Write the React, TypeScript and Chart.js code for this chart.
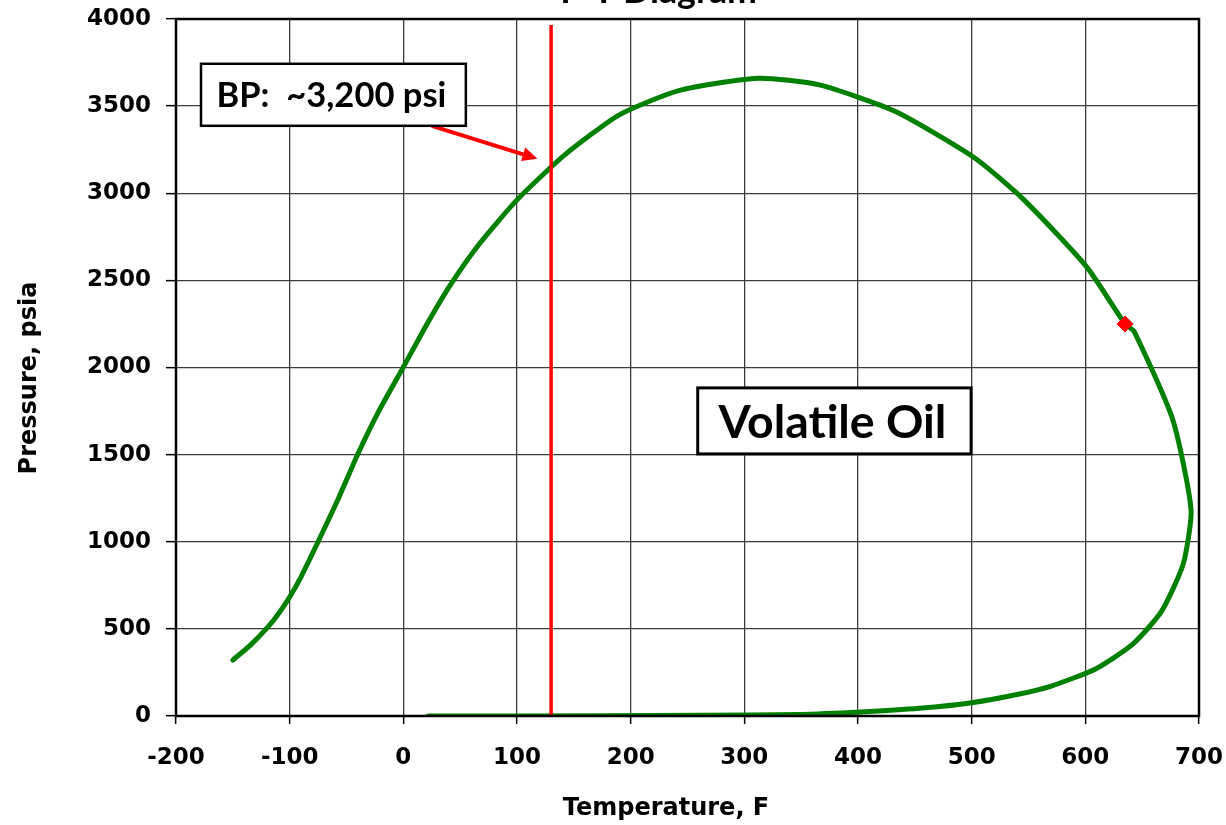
import React, { useEffect, useRef } from 'react';
import { Chart, registerables } from 'chart.js';

Chart.register(...registerables);

// Phase envelope (Temperature F, Pressure psia)
const envelopeTemp = [-150, -135, -120, -110, -100, -90, -75, -57, -40, -21, 0, 20, 41, 67, 100, 142, 190, 243, 312, 366, 433, 503, 546, 601, 635, 643, 677, 693, 686, 667, 642, 609, 570, 542, 500, 454, 402, 349, 260, 175, 22];
const envelopePres = [321, 404, 504, 585, 683, 799, 1000, 1250, 1504, 1757, 2002, 2240, 2470, 2710, 2962, 3220, 3450, 3590, 3660, 3622, 3469, 3201, 2962, 2579, 2250, 2206, 1699, 1183, 870, 600, 414, 270, 172, 126, 76, 44, 23, 9, 4, 1, 0];

// Reservoir temperature line
const resLineTemp = [130, 130];
const resLinePres = [0, 3965];

// Critical point
const critTemp = [635];
const critPres = [2250];

// Axis ranges
const xMin = -200, xMax = 700, xStep = 100;
const yMin = 0, yMax = 4000, yStep = 500;

// Text
const chartTitle = 'P-T Diagram';
const xTitle = 'Temperature, F';
const yTitle = 'Pressure, psia';
const bpLabel = 'BP:  ~3,200 psi';
const oilLabel = 'Volatile Oil';

// Annotation anchors in data units
const bpBoxT = [-178, 55];
const bpBoxP = [3387, 3743];
const arrowT = [25, 118];
const arrowP = [3387, 3198];
const oilBoxT = [259, 499.5];
const oilBoxP = [1504, 1883];

const TICK_FONT = { family: 'DejaVu Sans', weight: 'bold' as const, size: 23 };

function fitSize(ctx: CanvasRenderingContext2D, text: string, family: string, weight: string, target: number) {
  ctx.font = `${weight} 100px "${family}"`;
  const w = ctx.measureText(text).width;
  return (100 * target) / w;
}

const annotPlugin = {
  id: 'annotations',
  afterDatasetsDraw(chart: any) {
    const { ctx, chartArea: a, scales } = chart;
    const x = scales.x, y = scales.y;
    ctx.save();
    // plot-area border (drawn over series like the original)
    ctx.strokeStyle = '#000';
    ctx.lineWidth = 2.5;
    ctx.strokeRect(a.left, a.top, a.right - a.left, a.bottom - a.top);

    // arrow
    const x0 = x.getPixelForValue(arrowT[0]), y0 = y.getPixelForValue(arrowP[0]);
    const x1 = x.getPixelForValue(arrowT[1]), y1 = y.getPixelForValue(arrowP[1]);
    const ang = Math.atan2(y1 - y0, x1 - x0);
    const headLen = 15, headW = 7;
    const bx = x1 - headLen * Math.cos(ang), by = y1 - headLen * Math.sin(ang);
    ctx.strokeStyle = '#ff0000';
    ctx.fillStyle = '#ff0000';
    ctx.lineWidth = 4;
    ctx.beginPath();
    ctx.moveTo(x0, y0);
    ctx.lineTo(bx, by);
    ctx.stroke();
    ctx.beginPath();
    ctx.moveTo(x1, y1);
    ctx.lineTo(bx + headW * Math.sin(ang), by - headW * Math.cos(ang));
    ctx.lineTo(bx - headW * Math.sin(ang), by + headW * Math.cos(ang));
    ctx.closePath();
    ctx.fill();

    const drawBox = (tArr: number[], pArr: number[], text: string, lw: number, targetW: number) => {
      const l = x.getPixelForValue(tArr[0]), r = x.getPixelForValue(tArr[1]);
      const t = y.getPixelForValue(pArr[1]), b = y.getPixelForValue(pArr[0]);
      ctx.fillStyle = '#fff';
      ctx.fillRect(l, t, r - l, b - t);
      ctx.strokeStyle = '#000';
      ctx.lineWidth = lw;
      ctx.strokeRect(l, t, r - l, b - t);
      const size = fitSize(ctx, text, 'Lato', 'bold', targetW);
      ctx.font = `bold ${size}px "Lato"`;
      ctx.fillStyle = '#000';
      ctx.textAlign = 'center';
      ctx.textBaseline = 'alphabetic';
      ctx.fillText(text, (l + r) / 2 - 2, (t + b) / 2 + size * 0.36);
    };
    drawBox(bpBoxT, bpBoxP, bpLabel, 2.5, 230);
    drawBox(oilBoxT, oilBoxP, oilLabel, 3, 228);
    ctx.restore();
  },
  afterDraw(chart: any) {
    const { ctx } = chart;
    ctx.save();
    ctx.fillStyle = '#000';
    // axis titles
    ctx.font = 'bold 24px "DejaVu Sans"';
    ctx.textAlign = 'center';
    ctx.textBaseline = 'alphabetic';
    ctx.fillText(xTitle, 666, 815);
    ctx.translate(36, 378);
    ctx.rotate(-Math.PI / 2);
    ctx.fillText(yTitle, 0, 0);
    ctx.setTransform(1, 0, 0, 1, 0, 0);
    // chart title (mostly cut off at the top edge)
    const s = fitSize(ctx, 'Diagram', 'Lato', 'bold', 134);
    ctx.font = `bold ${s}px "Lato"`;
    ctx.textAlign = 'right';
    ctx.fillText(chartTitle, 757, 3);
    ctx.restore();
  },
};

export default function App() {
  const ref = useRef<HTMLCanvasElement>(null);
  useEffect(() => {
    if (!ref.current) return;
    const chart = new Chart(ref.current, {
      type: 'scatter',
      data: {
        datasets: [
          {
            label: 'Critical point',
            data: critTemp.map((t, i) => ({ x: t, y: critPres[i] })),
            pointStyle: 'rectRot',
            pointRadius: 8,
            pointBackgroundColor: '#ff0000',
            pointBorderColor: '#ff0000',
            showLine: false,
          },
          {
            label: 'Reservoir temperature',
            data: resLineTemp.map((t, i) => ({ x: t, y: resLinePres[i] })),
            borderColor: '#ff0000',
            borderWidth: 3.5,
            showLine: true,
            pointRadius: 0,
          },
          {
            label: 'Phase envelope',
            data: envelopeTemp.map((t, i) => ({ x: t, y: envelopePres[i] })),
            borderColor: '#008000',
            borderWidth: 5,
            showLine: true,
            pointRadius: 0,
            tension: 0.2,
            borderCapStyle: 'round',
            borderJoinStyle: 'round',
          } as any,
        ],
      },
      options: {
        animation: false,
        responsive: false,
        devicePixelRatio: 1,
        layout: { padding: { top: 19, right: 27, left: 0, bottom: 0 } },
        plugins: { legend: { display: false }, tooltip: { enabled: false }, title: { display: false } },
        scales: {
          x: {
            type: 'linear',
            position: 'bottom',
            min: xMin,
            max: xMax,
            ticks: { stepSize: xStep, color: '#000', font: TICK_FONT, padding: 20, maxRotation: 0, autoSkip: false, callback: (v: any) => String(v) },
            grid: { color: '#3c3c3c', lineWidth: 1.3, tickLength: 8, tickColor: '#000', tickWidth: 1.5 },
            border: { display: false },
            afterFit: (s: any) => { s.height = 109; s.paddingLeft = 0; s.paddingRight = 0; },
          },
          y: {
            type: 'linear',
            min: yMin,
            max: yMax,
            ticks: { stepSize: yStep, color: '#000', font: TICK_FONT, padding: 15, callback: (v: any) => String(v) },
            grid: { color: '#3c3c3c', lineWidth: 1.3, tickLength: 10, tickColor: '#000', tickWidth: 1.5 },
            border: { display: false },
            afterFit: (s: any) => { s.width = 176; s.paddingTop = 0; s.paddingBottom = 0; },
          },
        },
      },
      plugins: [annotPlugin],
    });
    return () => chart.destroy();
  }, []);
  return (
    <canvas
      ref={ref}
      width={1226}
      height={825}
      style={{ position: 'absolute', left: 0, top: 0, width: 1226, height: 825 }}
    />
  );
}
